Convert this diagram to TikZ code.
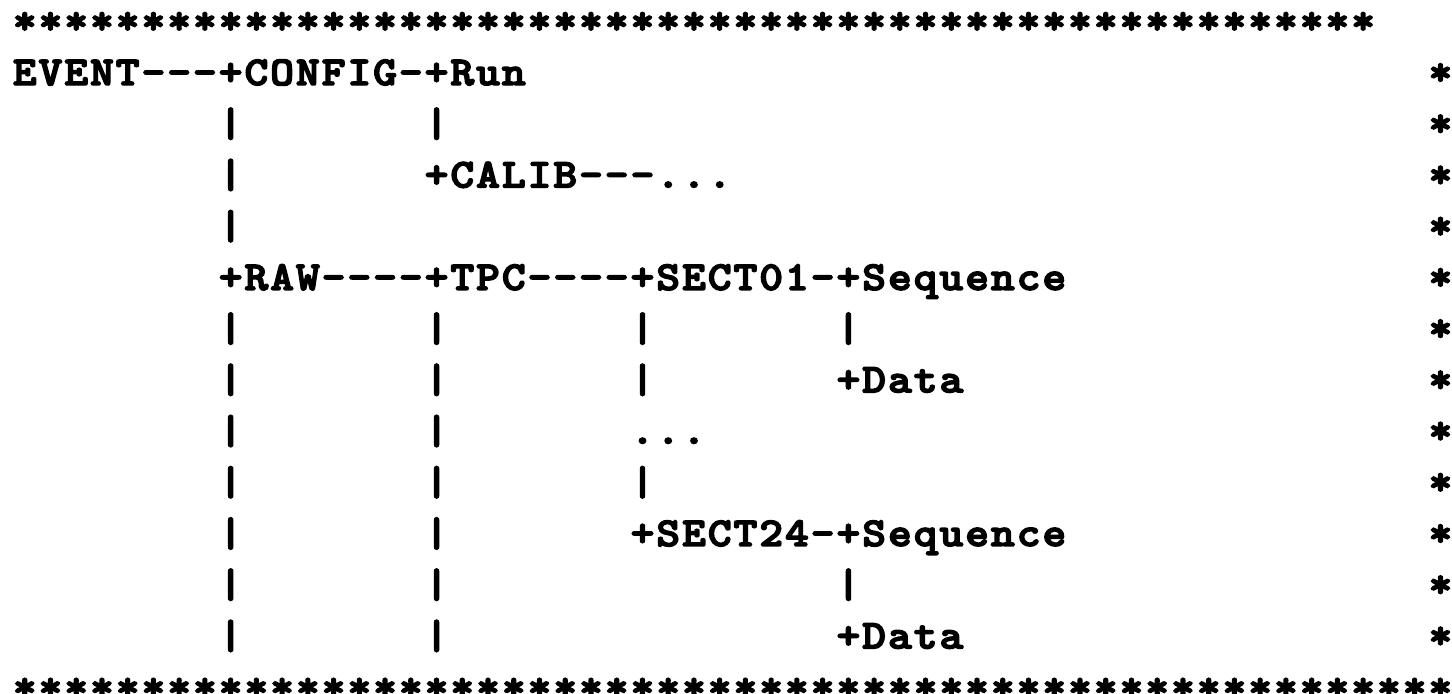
\documentclass[tikz,border=0pt]{standalone}
\usepackage{fontspec}
\newfontfamily\asciifont{lmmonolt10-bold.otf}[LetterSpace=4.57,FakeBold=3.5]
\begin{document}
\begin{tikzpicture}[x=12.87pt,y=-25.61pt]
	\def\fs{20.5pt}
	\tikzset{tx/.style={anchor=base west,inner sep=0pt,outer sep=0pt,xshift=0.515pt,xscale=1.1,transform shape,font=\fontsize{\fs}{\fs}\selectfont\asciifont}}
	\useasboundingbox(-5.95pt,16.9pt)rectangle++(726pt,-347pt);
	% frame of stars
	\path(0,0)node[tx](top){*****************************************************};
	\path(0,13)node[tx](bottom){********************************************************};
	\foreach \r in {1,...,12}
	\path(55,\r)node[tx](star\r){*};
	% labels
	\foreach \c/\r/\t/\n in {
	0/1/{EVENT---+CONFIG-+Run}/event,
	16/3/{+CALIB---...}/calib,
	8/5/{+RAW----+TPC----+SECT01-+Sequence}/raw,
	32/7/{+Data}/data01,
	24/8/{...}/dots,
	24/10/{+SECT24-+Sequence}/sect24,
	32/12/{+Data}/data24}
	\path(\c,\r)node[tx](\n){\t};
	% vertical bars
	\foreach \c/\r in {
	8/2,16/2,
	8/3,
	8/4,
	8/6,16/6,24/6,32/6,
	8/7,16/7,24/7,
	8/8,16/8,
	8/9,16/9,24/9,
	8/10,16/10,
	8/11,16/11,32/11,
	8/12,16/12}
	\path(\c,\r)node[tx](bar-\c-\r){|};
\end{tikzpicture}
\end{document}
